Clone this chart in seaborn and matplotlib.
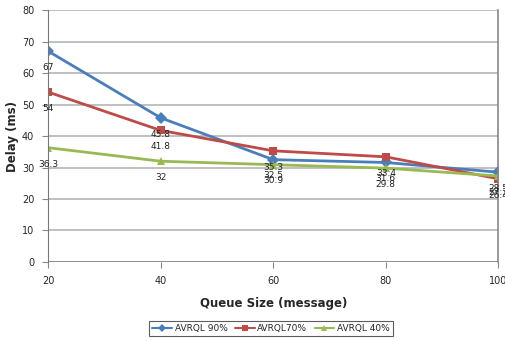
import seaborn as sns
import matplotlib.pyplot as plt
import pandas as pd

# data
queue_size = [20, 40, 60, 80, 100]
avrql_90 = [67, 45.8, 32.5, 31.6, 28.5]
avrql_70 = [54, 41.8, 35.3, 33.4, 26.4]
avrql_40 = [36.3, 32, 30.9, 29.8, 27.3]
series_names = ['AVRQL 90%', 'AVRQL70%', 'AVRQL 40%']

df = pd.DataFrame({
    'queue': queue_size * 3,
    'delay': avrql_90 + avrql_70 + avrql_40,
    'series': [series_names[0]] * 5 + [series_names[1]] * 5 + [series_names[2]] * 5,
})

sns.set_style('white')
plt.rcParams['font.family'] = ['DejaVu Sans']

palette = {'AVRQL 90%': '#4a7ebb', 'AVRQL70%': '#be4b48', 'AVRQL 40%': '#98b954'}
markers = {'AVRQL 90%': 'D', 'AVRQL70%': 's', 'AVRQL 40%': '^'}

fig = plt.figure(figsize=(5.06, 3.41), dpi=100)
ax = fig.add_axes([0.095, 0.232, 0.89, 0.738])

sns.lineplot(data=df, x='queue', y='delay', hue='series', style='series',
             palette=palette, markers=markers, dashes=False, markersize=6,
             markeredgewidth=0, linewidth=2, ax=ax, legend=True)

# data labels below each point
for name, vals in zip(series_names, [avrql_90, avrql_70, avrql_40]):
    for xv, yv in zip(queue_size, vals):
        ax.annotate(f'{yv:g}', (xv, yv), xytext=(0, -8.5), textcoords='offset points',
                    ha='center', va='top', fontsize=6.5, color='#222222')

ax.set_xlim(20, 100)
ax.set_ylim(0, 80)
ax.set_xticks(queue_size)
ax.set_yticks(range(0, 81, 10))
ax.yaxis.grid(True, color='#b5b5b5', linewidth=1.2)
ax.xaxis.grid(False)
for side in ['top', 'bottom']:
    ax.spines[side].set_visible(False)
ax.spines['left'].set_color('#777777')
ax.spines['right'].set_color('#888888')
ax.spines['right'].set_linewidth(1.2)
ax.axhline(0, color='#888888', linewidth=1.2, zorder=1)
ax.tick_params(axis='both', which='major', labelsize=7, length=4, color='#888888',
               left=True, bottom=True, pad=6)

ax.set_xlabel('Queue Size (message)', fontsize=8.5, fontweight='bold', labelpad=8)
ax.set_ylabel('Delay (ms)', fontsize=8.5, fontweight='bold', labelpad=2)

leg = ax.legend(loc='upper center', bbox_to_anchor=(0.495, -0.215), ncol=3,
                fontsize=6.5, frameon=True, fancybox=False, handlelength=2.2,
                columnspacing=0.8, handletextpad=0.3, borderpad=0.35)
leg.get_frame().set_edgecolor('#333333')
leg.get_frame().set_linewidth(0.8)
for line in leg.get_lines():
    line.set_linewidth(1.5)
    line.set_markersize(4)

plt.savefig('out.png', dpi=100)
